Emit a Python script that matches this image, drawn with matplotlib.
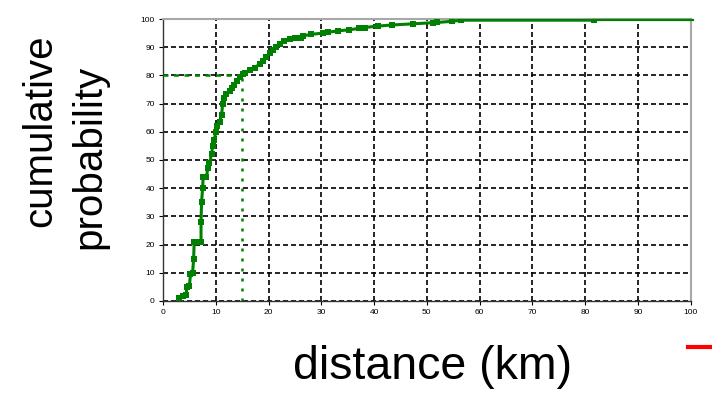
import matplotlib.pyplot as plt
from matplotlib.lines import Line2D

# %% Data

dist_km = [3.0, 3.8, 4.4, 4.5, 5.0, 5.2, 5.6, 5.8, 5.9, 6.5, 7.2, 7.2, 7.3, 7.5, 7.6,
           8.2, 8.5, 8.8, 9.2, 9.4, 9.7, 10.0, 10.2, 10.7, 11.1, 11.3, 11.6, 12.0,
           12.6, 13.0, 13.5, 14.0, 14.6, 15.1, 15.6, 16.5, 17.4, 18.3, 19.0, 19.6,
           20.2, 20.8, 21.4, 22.2, 23.0, 24.0, 25.0, 26.2, 26.5, 28.1, 30.3, 31.2,
           33.1, 35.3, 37.2, 38.2, 40.7, 43.4, 47.3, 51.1, 52.0, 54.8, 56.5, 81.7]
cum_prob = [1.2, 1.8, 2.2, 5.0, 5.3, 9.5, 10.0, 15.0, 21.0, 21.0, 21.0, 28.0, 35.0,
            40.0, 44.0, 44.0, 47.0, 49.0, 52.0, 55.0, 57.0, 60.0, 62.0, 63.5, 66.0,
            70.0, 72.0, 73.5, 74.5, 75.5, 76.5, 78.0, 79.5, 80.5, 81.0, 82.0, 82.8,
            84.0, 85.0, 86.5, 88.0, 89.0, 90.2, 91.3, 92.1, 92.8, 93.2, 93.3, 94.0,
            94.6, 95.0, 95.3, 95.8, 96.2, 96.7, 97.0, 97.5, 97.9, 98.3, 98.7, 98.8,
            99.2, 99.6, 99.6]
tail_km = [81.7, 100.5]
tail_prob = [99.6, 99.6]

ref_prob = 80
ref_dist = 15

ticks = list(range(0, 101, 10))

# %% Plot

plt.rcParams["font.family"] = ["Liberation Sans", "DejaVu Sans"]

fig = plt.figure(figsize=(7.12, 3.97), dpi=100)
ax = fig.add_axes([0.229, 0.242, 0.741, 0.710])

green = "#008000"

ax.plot(dist_km, cum_prob, color=green, linewidth=2.2, marker="s",
        markersize=5, markeredgewidth=0, zorder=5)
ax.plot(tail_km, tail_prob, color=green, linewidth=1.6, zorder=5, clip_on=False)

# 80% reference lines
ax.plot([0, ref_dist], [ref_prob, ref_prob], color=green, linewidth=1.8,
        dashes=(2.0, 2.2), zorder=4)
ax.plot([ref_dist, ref_dist], [0, ref_prob], color=green, linewidth=1.8,
        dashes=(1.2, 2.8), zorder=4)

ax.set_xlim(0, 100)
ax.set_ylim(0, 100)
ax.set_xticks(ticks)
ax.set_yticks(ticks)
ax.tick_params(labelsize=6, length=3, width=0.8, pad=3)
ax.grid(True, color="black", linewidth=1.2, dashes=(3.0, 1.8))

for side in ["left", "bottom"]:
    ax.spines[side].set_color("#333333")
    ax.spines[side].set_linewidth(1.0)
for side in ["top", "right"]:
    ax.spines[side].set_color("#a8a8a8")
    ax.spines[side].set_linewidth(1.5)

fig.text(0.057, 0.670, "cumulative", rotation=90, ha="center", va="center",
         fontsize=29)
fig.text(0.125, 0.605, "probability", rotation=90, ha="center", va="center",
         fontsize=29)
fig.text(0.607, 0.075, "distance (km)", ha="center", va="center", fontsize=33.5)

# small red mark at the lower right edge
fig.add_artist(Line2D([0.966, 1.0], [0.126, 0.126], color="red", linewidth=3,
                      transform=fig.transFigure))

fig.savefig("out.png", dpi=100)
